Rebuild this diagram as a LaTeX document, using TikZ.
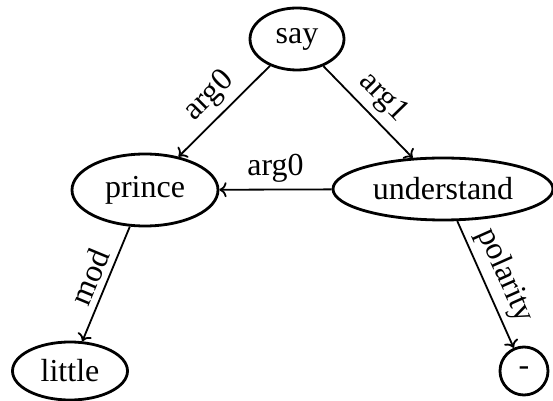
\documentclass[tikz,border=0pt]{standalone}
\usepackage{fontspec}
\setmainfont{Liberation Serif}
\usetikzlibrary{positioning, arrows.meta, shapes.geometric}

\tikzset{
    concept/.style={
        ellipse, draw, line width=1.4pt, inner sep=0pt,
        font=\fontsize{16}{18}\selectfont
    },
    relation/.style={
        ->, line width=0.9pt, draw=black
    },
    rel_label/.style={
        midway, sloped, above, inner sep=3pt,
        font=\fontsize{16}{18}\selectfont
    }
}

\begin{document}
\begin{tikzpicture}[x=0.5pt, y=-0.5pt]

    \useasboundingbox (0,0) rectangle (553,401);

    % Concepts
    \node[concept, minimum width=47pt, minimum height=31pt] (say) at (297,39) {say};
    \node[concept, minimum width=73pt, minimum height=36pt] (prince) at (145,190) {prince};
    \node[concept, minimum width=110pt, minimum height=31pt] (understand) at (443,189) {understand};
    \node[concept, minimum width=57.5pt, minimum height=29pt] (little) at (70,371) {little};
    \node[concept, circle, minimum size=24pt] (neg) at (524,371) {-};

    % Relations
    \draw[relation] (say) -- node[rel_label] {arg0} (prince);
    \draw[relation] (say) -- node[rel_label] {arg1} (understand);
    \draw[relation] (understand) -- node[rel_label] {arg0} (prince);
    \draw[relation] (prince) -- node[rel_label] {mod} (little);
    \draw[relation] (understand) -- node[rel_label] {polarity} (neg);

\end{tikzpicture}
\end{document}
